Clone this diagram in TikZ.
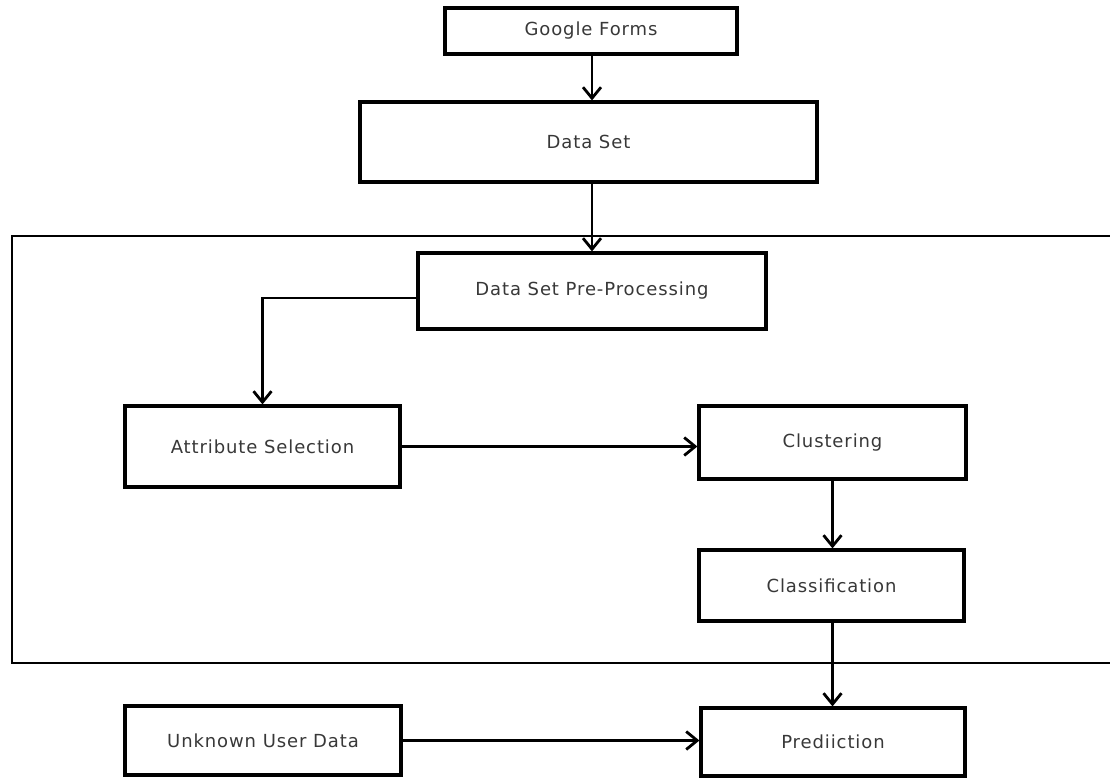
\documentclass[tikz,border=0pt]{standalone}
\usepackage{fontspec}
\setmainfont{DejaVu Sans}[LetterSpace=5]
\usetikzlibrary{arrows.meta}

\begin{document}
\begin{tikzpicture}[x=0.5pt, y=-0.5pt, font=\fontsize{9}{11}\selectfont,
  box/.style={draw, line width=1.6pt, text=black!78, inner sep=0pt},
  flow/.style={line width=1.4pt, -{Straight Barb[length=5.5pt,width=9pt]}}]
\useasboundingbox (0,0) rectangle (1110,778);
%% the frame round the processing steps, open on the right
\draw[line width=1.1pt] (1110,236) -- (12,236) -- (12,663) -- (1110,663);
%% the steps
\node[box, minimum width=146pt, minimum height=23pt] (forms) at (591,31) {Google Forms};
\node[box, minimum width=228.5pt, minimum height=40pt] (data) at (588.5,142) {Data Set};
\node[box, minimum width=174pt, minimum height=38pt] (prep) at (592,291) {Data Set Pre-Processing};
\node[box, minimum width=137.5pt, minimum height=40.5pt] (attr) at (262.5,446.5) {Attribute Selection};
\node[box, minimum width=133.5pt, minimum height=36.5pt] (clus) at (832.5,442.5) {Clustering};
\node[box, minimum width=132.5pt, minimum height=35.5pt] (clas) at (831.5,585.5) {Classification};
\node[box, minimum width=132pt, minimum height=34pt] (pred) at (833,742) {Prediiction};
\node[box, minimum width=138pt, minimum height=34.5pt] (unk) at (263,740.5) {Unknown User Data};
%% the flow
\draw[flow] (forms.south -| 592,0) -- (data.north -| 592,0);
\draw[flow] (data.south -| 592,0) -- (prep.north -| 592,0);
\draw[flow] ([yshift=-3.5pt]prep.west) -| (attr.north);
\draw[flow] (attr.east) -- (attr.east -| clus.west);
\draw[flow] (clus.south) -- (clas.north -| clus.south);
\draw[flow] (clas.south -| clus.south) -- (pred.north -| clus.south);
\draw[flow] (unk.east) -- (unk.east -| pred.west);
\end{tikzpicture}
\end{document}
